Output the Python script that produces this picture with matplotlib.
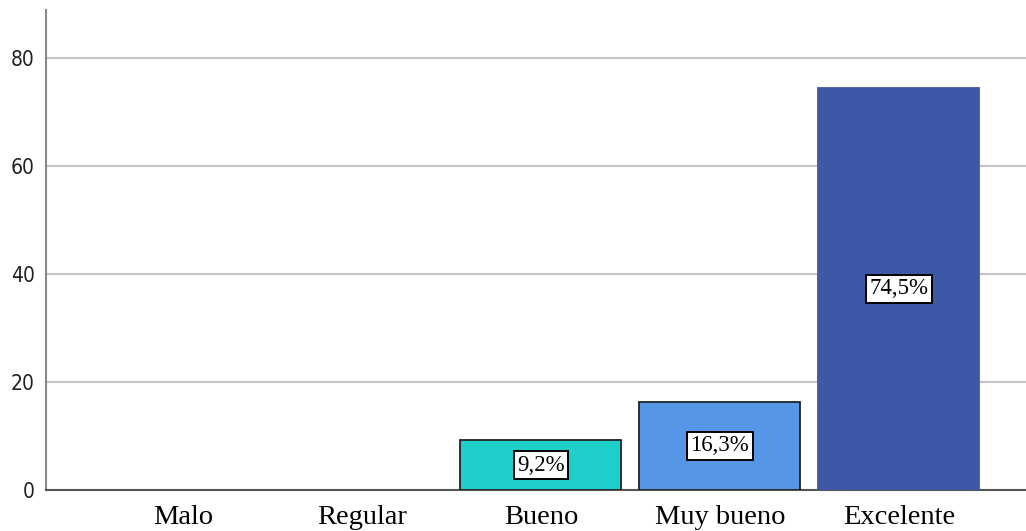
import matplotlib
matplotlib.use("Agg")
import matplotlib.pyplot as plt

# category labels and percentage per category
categories = ["Malo", "Regular", "Bueno", "Muy bueno", "Excelente"]
percents = [0.0, 0.0, 9.2, 16.3, 74.5]
bar_colors = ["#1ecfc9", "#1ecfc9", "#1ecfc9", "#5596e6", "#3e58a8"]
edge_colors = ["#222222", "#222222", "#222222", "#222222", "#3e58a8"]
y_ticks = [0, 20, 40, 60, 80]

fig = plt.figure(figsize=(10.26, 5.31), dpi=100)
ax = fig.add_axes([46 / 1026, 41 / 531, 980 / 1026, 480 / 531])

x = list(range(len(categories)))
for i, val in enumerate(percents):
    if val <= 0:
        continue
    ax.bar(i, val, width=0.9, color=bar_colors[i], edgecolor=edge_colors[i],
           linewidth=1.3, zorder=3)
    label = f"{val:.1f}%".replace(".", ",")
    ax.text(i, val / 2, label, ha="center", va="center", fontsize=16.5,
            family="Liberation Serif", zorder=4,
            bbox=dict(boxstyle="square,pad=0.15", facecolor="white",
                      edgecolor="black", linewidth=1.4))

ax.set_xlim(-0.765, 4.71)
ax.set_ylim(0, 88.9)
ax.set_yticks(y_ticks)
ax.set_xticks(x)
ax.set_xticklabels(categories, family="Liberation Serif", fontsize=20.5)
ax.set_yticklabels([str(v) for v in y_ticks], family="DejaVu Sans",
                   fontsize=15, stretch="condensed", color="#222222")

ax.tick_params(axis="both", length=0)
ax.tick_params(axis="y", pad=8)
ax.tick_params(axis="x", pad=11)
ax.yaxis.grid(True, color="#c4c4c4", linewidth=1.5, zorder=0)
ax.set_axisbelow(True)

for side in ["top", "right"]:
    ax.spines[side].set_visible(False)
ax.spines["left"].set_color("#8a8a8a")
ax.spines["left"].set_linewidth(1.5)
ax.spines["bottom"].set_color("#555555")
ax.spines["bottom"].set_linewidth(1.5)

fig.savefig("out.png", dpi=100, facecolor="white")
